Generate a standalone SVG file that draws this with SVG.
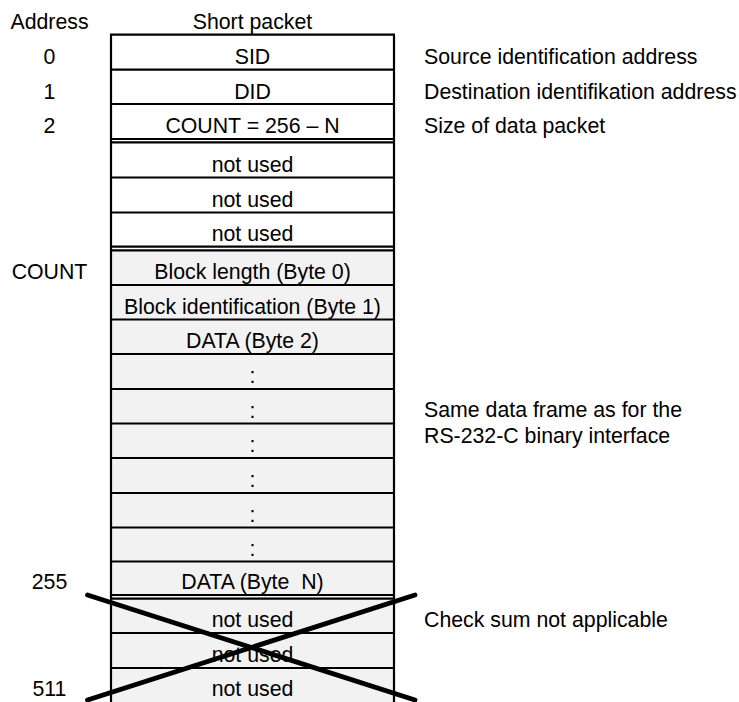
<svg xmlns="http://www.w3.org/2000/svg" width="739" height="702" viewBox="0 0 739 702">
<style>
text{font-family:"Liberation Sans",Arial,sans-serif;font-size:21.3px;fill:#000}
.c{text-anchor:middle}
.l{text-anchor:middle}
.h{stroke:#000;stroke-width:2.2;fill:none}
.x{stroke:#000;stroke-width:4.8;stroke-linecap:round;fill:none}
</style>
<rect width="739" height="702" fill="#fff"/>
<g id="headers">
<text class="l" x="49.5" y="29">Address</text>
<text class="c" x="252.5" y="29">Short packet</text>
</g>
<rect x="111" y="250.3" width="283" height="452" fill="#f2f2f2"/>
<g id="table-frame">
<line class="h" x1="111" y1="34.7" x2="111" y2="702"/>
<line class="h" x1="394" y1="34.7" x2="394" y2="702"/>
<line class="h" x1="110" y1="34.7" x2="395" y2="34.7"/>
<line class="h" x1="111" y1="69.7" x2="394" y2="69.7"/>
<line class="h" x1="111" y1="104" x2="394" y2="104"/>
<line class="h" x1="111" y1="139" x2="394" y2="139"/>
<line class="h" x1="111" y1="142.3" x2="394" y2="142.3"/>
<line class="h" x1="111" y1="177.5" x2="394" y2="177.5"/>
<line class="h" x1="111" y1="212.5" x2="394" y2="212.5"/>
<line class="h" x1="111" y1="246.7" x2="394" y2="246.7"/>
<line class="h" x1="111" y1="250.3" x2="394" y2="250.3"/>
<line class="h" x1="111" y1="285" x2="394" y2="285"/>
<line class="h" x1="111" y1="319.5" x2="394" y2="319.5"/>
<line class="h" x1="111" y1="354" x2="394" y2="354"/>
<line class="h" x1="111" y1="389" x2="394" y2="389"/>
<line class="h" x1="111" y1="423.5" x2="394" y2="423.5"/>
<line class="h" x1="111" y1="458" x2="394" y2="458"/>
<line class="h" x1="111" y1="493" x2="394" y2="493"/>
<line class="h" x1="111" y1="527.5" x2="394" y2="527.5"/>
<line class="h" x1="111" y1="561.5" x2="394" y2="561.5"/>
<line class="h" x1="111" y1="595" x2="394" y2="595"/>
<line class="h" x1="111" y1="598.7" x2="394" y2="598.7"/>
<line class="h" x1="111" y1="633" x2="394" y2="633"/>
<line class="h" x1="111" y1="668" x2="394" y2="668"/>
</g>
<g id="row-sid"><text class="l" x="49.5" y="64">0</text><text class="c" x="252.5" y="64">SID</text><text x="424" y="64">Source identification address</text></g>
<g id="row-did"><text class="l" x="49.5" y="98.5">1</text><text class="c" x="252.5" y="98.5">DID</text><text x="424" y="98.5">Destination identifikation address</text></g>
<g id="row-count"><text class="l" x="49.5" y="133">2</text><text class="c" x="252.5" y="133">COUNT = 256 – N</text><text x="424" y="133">Size of data packet</text></g>
<g id="row-nu1"><text class="c" x="252.5" y="171.5">not used</text></g>
<g id="row-nu2"><text class="c" x="252.5" y="206.5">not used</text></g>
<g id="row-nu3"><text class="c" x="252.5" y="241">not used</text></g>
<g id="row-blen"><text class="l" x="49.5" y="278.5">COUNT</text><text class="c" x="252.5" y="278.5">Block length (Byte 0)</text></g>
<g id="row-bid"><text class="c" x="252.5" y="313.5">Block identification (Byte 1)</text></g>
<g id="row-d2"><text class="c" x="252.5" y="348">DATA (Byte 2)</text></g>
<g id="row-dots1"><text class="c" x="252.5" y="383">:</text></g>
<g id="row-dots2"><text class="c" x="252.5" y="417.5">:</text></g>
<g id="row-dots3"><text class="c" x="252.5" y="452">:</text></g>
<g id="row-dots4"><text class="c" x="252.5" y="487">:</text></g>
<g id="row-dots5"><text class="c" x="252.5" y="521.5">:</text></g>
<g id="row-dots6"><text class="c" x="252.5" y="555.5">:</text></g>
<g id="note-data"><text x="424" y="416.5">Same data frame as for the</text><text x="424" y="443">RS-232-C binary interface</text></g>
<g id="row-dn"><text class="l" x="49.5" y="589">255</text><text class="c" x="252.5" y="589" style="white-space:pre">DATA (Byte  N)</text></g>
<g id="row-nu4"><text class="c" x="252.5" y="627">not used</text><text x="424" y="627">Check sum not applicable</text></g>
<g id="row-nu5"><text class="c" x="252.5" y="662">not used</text></g>
<g id="row-nu6"><text class="l" x="49.5" y="696">511</text><text class="c" x="252.5" y="696">not used</text></g>
<g id="connectors">
<line class="x" x1="87.5" y1="595" x2="415" y2="700"/>
<line class="x" x1="87.5" y1="700" x2="415" y2="595"/>
</g>
</svg>
